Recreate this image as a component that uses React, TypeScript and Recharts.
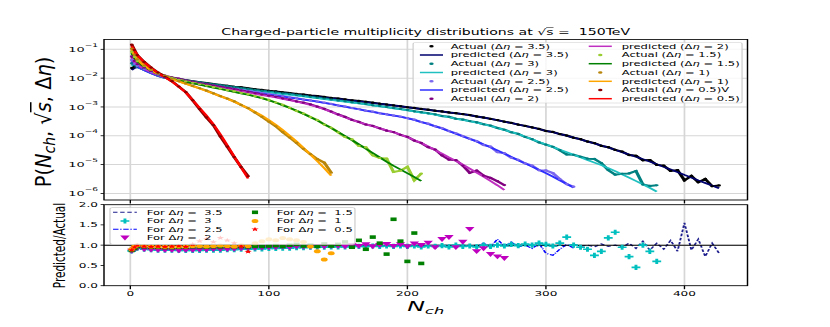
import React from 'react';
import { ComposedChart, Line, XAxis, YAxis, CartesianGrid, ReferenceLine } from 'recharts';

// ---- figure geometry (figure is drawn narrow, then stretched horizontally like the reference)
const SX = 1.7;
const W = 830 / SX;
const PLOT_L = 104 / SX;
const PLOT_R = 747.5 / SX;
const FONT = '"DejaVu Sans", sans-serif';

// ---- data
const X_TICKS = [0, 100, 200, 300, 400];
const X_DOMAIN: [number, number] = [-19, 445.5];
const Y_TICKS_TOP = [1e-6, 1e-5, 1e-4, 1e-3, 1e-2, 1e-1];
const Y_TICKS_BOTTOM = [0, 0.5, 1, 1.5, 2];

const nGrid = [1, 3, 5, 10, 15, 20, 25, 30, 35, 40, 45, 50, 55, 60, 65, 70, 75, 80, 85, 90, 95, 100, 105, 110, 115, 120, 125, 130, 135, 140, 145, 150, 155, 160, 165, 170, 175, 180, 185, 190, 195, 200, 205, 210, 215, 220, 225, 230, 235, 240, 245, 250, 255, 260, 265, 270, 275, 280, 285, 290, 295, 300, 305, 310, 315, 320, 325, 330, 335, 340, 345, 350, 355, 360, 365, 370, 375, 380, 385, 390, 395, 400, 405, 410, 415, 420, 425];

// log10 of predicted P(Nch)
const logPred05 = [-0.89, -1.05, -1.2, -1.45, -1.65, -1.82, -1.97, -2.12, -2.3, -2.5, -2.76, -3.03, -3.3, -3.6, -3.95, -4.33, -4.72, -5.1, -5.48];
const logPred10 = [-1.02, -1.2, -1.35, -1.57, -1.72, -1.85, -1.95, -2.04, -2.12, -2.2, -2.28, -2.36, -2.45, -2.54, -2.63, -2.72, -2.82, -2.93, -3.05, -3.17, -3.3, -3.45, -3.62, -3.8, -4.0, -4.2, -4.42, -4.65, -4.88, -5.12, -5.38];
const logPred15 = [-1.14, -1.3, -1.42, -1.6, -1.74, -1.86, -1.95, -2.02, -2.08, -2.13, -2.18, -2.23, -2.28, -2.33, -2.38, -2.43, -2.48, -2.53, -2.58, -2.64, -2.7, -2.77, -2.85, -2.94, -3.03, -3.13, -3.24, -3.35, -3.47, -3.6, -3.73, -3.87, -4.01, -4.15, -4.3, -4.45, -4.6, -4.75, -4.9, -5.04, -5.17, -5.3, -5.43, -5.57];
const logPred20 = [-1.31, -1.45, -1.55, -1.68, -1.8, -1.9, -1.97, -2.03, -2.08, -2.13, -2.18, -2.22, -2.26, -2.3, -2.34, -2.38, -2.42, -2.46, -2.5, -2.55, -2.59, -2.63, -2.67, -2.72, -2.77, -2.82, -2.87, -2.93, -3.0, -3.08, -3.17, -3.27, -3.36, -3.45, -3.53, -3.6, -3.67, -3.74, -3.81, -3.88, -3.96, -4.05, -4.15, -4.25, -4.37, -4.5, -4.62, -4.75, -4.87, -5.0, -5.14, -5.28, -5.42, -5.57, -5.72, -5.88];
const logPred25 = [-1.43, -1.55, -1.6, -1.72, -1.83, -1.92, -1.99, -2.05, -2.1, -2.14, -2.18, -2.22, -2.26, -2.3, -2.33, -2.37, -2.4, -2.44, -2.47, -2.5, -2.54, -2.57, -2.61, -2.64, -2.68, -2.71, -2.75, -2.78, -2.82, -2.86, -2.9, -2.95, -2.99, -3.04, -3.08, -3.13, -3.17, -3.22, -3.26, -3.3, -3.34, -3.39, -3.45, -3.52, -3.59, -3.67, -3.75, -3.84, -3.93, -4.02, -4.11, -4.2, -4.3, -4.4, -4.51, -4.62, -4.73, -4.85, -4.96, -5.07, -5.18, -5.3, -5.42, -5.55, -5.67, -5.8];
const logPred30 = [-1.55, -1.6, -1.62, -1.72, -1.83, -1.93, -2.0, -2.05, -2.09, -2.13, -2.17, -2.2, -2.24, -2.27, -2.3, -2.33, -2.36, -2.39, -2.42, -2.45, -2.48, -2.5, -2.53, -2.56, -2.58, -2.61, -2.64, -2.67, -2.7, -2.73, -2.76, -2.79, -2.82, -2.85, -2.88, -2.91, -2.95, -2.98, -3.01, -3.05, -3.08, -3.12, -3.16, -3.2, -3.23, -3.27, -3.32, -3.36, -3.41, -3.45, -3.5, -3.55, -3.6, -3.66, -3.73, -3.8, -3.87, -3.94, -4.03, -4.12, -4.21, -4.3, -4.39, -4.48, -4.57, -4.66, -4.75, -4.84, -4.93, -5.02, -5.12, -5.23, -5.34, -5.45, -5.57, -5.69, -5.81, -5.94];
const logPred35 = [-1.72, -1.65, -1.62, -1.72, -1.83, -1.93, -2.0, -2.05, -2.09, -2.13, -2.16, -2.19, -2.22, -2.25, -2.28, -2.31, -2.34, -2.36, -2.39, -2.42, -2.44, -2.47, -2.49, -2.52, -2.54, -2.57, -2.59, -2.62, -2.64, -2.67, -2.7, -2.72, -2.75, -2.78, -2.8, -2.83, -2.86, -2.89, -2.92, -2.95, -2.98, -3.01, -3.04, -3.07, -3.1, -3.13, -3.16, -3.19, -3.22, -3.25, -3.29, -3.33, -3.37, -3.41, -3.46, -3.51, -3.56, -3.61, -3.66, -3.71, -3.77, -3.83, -3.88, -3.94, -4.0, -4.06, -4.13, -4.2, -4.27, -4.34, -4.41, -4.49, -4.57, -4.65, -4.73, -4.81, -4.9, -4.99, -5.08, -5.17, -5.26, -5.36, -5.45, -5.55, -5.64, -5.73, -5.82];

// Predicted / Actual ratio
const ratio05 = [0.88, 0.95, 1.0, 0.97, 0.96, 0.97, 0.96, 0.97, 0.98, 0.96, 1.02, 1.1, 1.16, 1.08, 1.18, 1.12, 1.05, 0.97, 0.84];
const ratio10 = [0.9, 0.97, 1.0, 0.98, 0.97, 0.97, 0.96, 0.96, 0.97, 0.97, 0.98, 0.98, 0.97, 0.98, 0.99, 0.98, 0.97, 1.0, 0.98, 1.05, 1.1, 1.15, 1.12, 1.18, 1.15, 1.12, 1.08, 0.97, 0.85, 0.65, 0.8];
const ratio15 = [0.87, 0.92, 0.97, 0.96, 0.95, 0.95, 0.94, 0.94, 0.95, 0.95, 0.96, 0.96, 0.95, 0.96, 0.96, 0.97, 0.96, 0.97, 0.96, 0.97, 0.97, 0.98, 0.99, 0.97, 1.0, 1.02, 0.98, 1.0, 0.97, 1.03, 0.98, 1.02, 1.08, 0.95, 1.12, 0.9, 1.2, 1.05, 0.78, 1.64, 1.1, 0.6, 1.3, 0.55];
const ratio20 = [0.86, 0.9, 0.93, 0.9, 0.89, 0.88, 0.88, 0.88, 0.87, 0.88, 0.88, 0.89, 0.89, 0.9, 0.9, 0.9, 0.91, 0.92, 0.93, 0.93, 0.94, 0.95, 0.95, 0.96, 0.95, 0.97, 0.96, 0.96, 0.98, 0.97, 0.98, 0.98, 0.97, 1.0, 0.98, 1.02, 0.97, 1.0, 1.03, 0.98, 1.02, 0.97, 1.04, 1.0, 1.06, 0.95, 1.15, 1.2, 0.95, 1.08, 1.4, 0.85, 0.92, 0.78, 0.72, 0.68];
const ratio25 = [0.87, 0.91, 0.95, 0.93, 0.92, 0.91, 0.91, 0.9, 0.9, 0.9, 0.9, 0.9, 0.91, 0.91, 0.92, 0.92, 0.93, 0.93, 0.94, 0.94, 0.95, 0.95, 0.96, 0.96, 0.97, 0.97, 0.97, 0.98, 0.98, 0.98, 0.99, 0.99, 0.99, 1.0, 0.99, 1.0, 0.99, 1.0, 0.98, 1.0, 0.99, 1.0, 0.98, 1.01, 0.98, 1.0, 0.97, 0.99, 0.96, 0.98, 1.0, 0.97, 1.05, 0.95, 1.15, 0.97, 1.08, 0.96, 1.0, 0.92, 1.04, 0.8, 0.75, 0.9, 1.02, 0.93];
const ratio30 = [0.86, 0.9, 0.93, 0.9, 0.89, 0.88, 0.88, 0.88, 0.87, 0.87, 0.87, 0.87, 0.88, 0.88, 0.88, 0.89, 0.89, 0.9, 0.9, 0.91, 0.91, 0.92, 0.92, 0.93, 0.93, 0.94, 0.94, 0.95, 0.95, 0.95, 0.96, 0.96, 0.96, 0.97, 0.97, 0.97, 0.98, 0.97, 0.98, 0.97, 0.98, 0.97, 0.98, 0.96, 0.98, 0.97, 0.99, 0.96, 1.0, 0.97, 0.98, 0.96, 1.0, 0.97, 1.0, 0.98, 1.02, 0.99, 1.03, 1.0, 1.05, 1.02, 0.98, 1.05, 1.2, 1.0, 0.95, 0.9, 0.75, 0.85, 1.18, 1.32, 0.95, 0.72, 0.45, 1.0, 0.85, 0.6];
const ratio35 = [0.85, 0.9, 0.93, 0.9, 0.89, 0.89, 0.89, 0.88, 0.88, 0.88, 0.89, 0.89, 0.89, 0.9, 0.9, 0.9, 0.91, 0.91, 0.92, 0.92, 0.93, 0.93, 0.94, 0.94, 0.95, 0.95, 0.95, 0.96, 0.96, 0.96, 0.97, 0.97, 0.97, 0.98, 0.98, 0.98, 0.98, 0.99, 0.99, 0.99, 0.99, 1.0, 0.99, 1.0, 0.99, 1.0, 0.99, 1.0, 0.99, 1.0, 0.98, 1.0, 0.99, 1.01, 0.99, 1.0, 0.98, 1.01, 0.99, 1.0, 0.98, 1.01, 0.97, 1.0, 0.98, 1.02, 0.97, 1.0, 0.96, 1.03, 0.97, 1.0, 0.95, 1.05, 0.92, 1.1, 0.88, 1.05, 0.9, 1.12, 0.85, 1.55, 0.88, 1.15, 0.72, 1.05, 0.8];

type Row = { x: number; pred: number; act: number; ratio: number };
const build = (logs: number[], ratios: number[]): Row[] =>
  logs.map((l, i) => ({ x: nGrid[i], pred: Math.pow(10, l), act: Math.pow(10, l) / ratios[i], ratio: ratios[i] }));

type Kind = 'dash' | 'plus' | 'dashdot' | 'tri' | 'square' | 'circle' | 'star';
type Series = { eta: string; rows: Row[]; act: string; pred: string; rc: string; kind: Kind };

const SERIES: Series[] = [
  { eta: '3.5', rows: build(logPred35, ratio35), act: '#000000', pred: '#00006e', rc: '#1c1c8c', kind: 'dash' },
  { eta: '3', rows: build(logPred30, ratio30), act: '#008080', pred: '#20c0c0', rc: '#00bfbf', kind: 'plus' },
  { eta: '2.5', rows: build(logPred25, ratio25), act: '#7b68ee', pred: '#2f2fff', rc: '#0000ff', kind: 'dashdot' },
  { eta: '2', rows: build(logPred20, ratio20), act: '#800080', pred: '#c030c0', rc: '#bf00bf', kind: 'tri' },
  { eta: '1.5', rows: build(logPred15, ratio15), act: '#9acd32', pred: '#008000', rc: '#008000', kind: 'square' },
  { eta: '1', rows: build(logPred10, ratio10), act: '#b8860b', pred: '#ffa500', rc: '#ffa500', kind: 'circle' },
  { eta: '0.5', rows: build(logPred05, ratio05), act: '#8b0000', pred: '#ff0000', rc: '#ff0000', kind: 'star' },
];

// ---- marker shapes
const starPath = (cx: number, cy: number, R: number, r: number) => {
  let d = '';
  for (let i = 0; i < 10; i++) {
    const a = -Math.PI / 2 + (i * Math.PI) / 5;
    const rad = i % 2 === 0 ? R : r;
    d += (i === 0 ? 'M' : 'L') + (cx + rad * Math.cos(a)).toFixed(2) + ',' + (cy + rad * Math.sin(a)).toFixed(2);
  }
  return d + 'Z';
};
const plusPath = (cx: number, cy: number, h: number, w: number) => {
  const a = w / 2;
  return `M${cx - a},${cy - h}H${cx + a}V${cy - a}H${cx + h}V${cy + a}H${cx + a}V${cy + h}H${cx - a}V${cy + a}H${cx - h}V${cy - a}H${cx - a}Z`;
};
const Marker = ({ kind, cx, cy, color }: { kind: Kind; cx: number; cy: number; color: string }) => {
  if (cx == null || cy == null || isNaN(cx) || isNaN(cy)) return <g />;
  if (kind === 'plus') return <path d={plusPath(cx, cy, 2.6, 1.7)} fill={color} />;
  if (kind === 'tri') return <path d={`M${cx - 2.8},${cy - 2.1}L${cx + 2.8},${cy - 2.1}L${cx},${cy + 2.8}Z`} fill={color} />;
  if (kind === 'square') return <rect x={cx - 1.8} y={cy - 1.8} width={3.6} height={3.6} fill={color} />;
  if (kind === 'circle') return <circle cx={cx} cy={cy} r={2} fill={color} />;
  if (kind === 'star') return <path d={starPath(cx, cy, 2.3, 1.0)} fill={color} />;
  return <g />;
};

const LogTick = (props: any) => {
  const { x, y, payload } = props;
  const e = Math.round(Math.log10(payload.value));
  return (
    <text x={x} y={y} textAnchor="end" fontSize={7.6} fontFamily={FONT} fill="#000">
      <tspan dy={2.6}>10</tspan>
      <tspan fontSize={5.3} dy={-5}>{'\u2212' + Math.abs(e)}</tspan>
    </text>
  );
};

const TopChart = () => (
  <ComposedChart width={W} height={205} margin={{ top: 39.5, right: W - PLOT_R, bottom: 0, left: 0 }}>
    <CartesianGrid stroke="#d6d6d6" strokeWidth={1} />
    <XAxis type="number" dataKey="x" domain={X_DOMAIN} ticks={X_TICKS} allowDataOverflow axisLine={false}
      tickSize={3.5} tickLine={{ stroke: '#000', strokeWidth: 0.8 }} tickFormatter={() => ''} height={5} />
    <YAxis type="number" scale="log" domain={[5.9e-7, 0.219]} ticks={Y_TICKS_TOP} allowDataOverflow width={PLOT_L}
      axisLine={false} tickSize={2} tickMargin={1.5} tickLine={{ stroke: '#000', strokeWidth: 0.8 }} tick={(p: any) => <LogTick {...p} />} />
    {SERIES.flatMap((s) => [
      <Line key={'a' + s.eta} data={s.rows} dataKey="act" type="linear" stroke={s.act} strokeWidth={2.0}
        dot={(p: any) => <circle key={p.key} cx={p.cx} cy={p.cy} r={1.1} fill={s.act} />}
        activeDot={false} isAnimationActive={false} />,
      <Line key={'p' + s.eta} data={s.rows} dataKey="pred" type="linear" stroke={s.pred} strokeWidth={1.6}
        dot={false} activeDot={false} isAnimationActive={false} />,
    ])}
  </ComposedChart>
);

const BottomChart = () => (
  <ComposedChart width={W} height={127} margin={{ top: 4.7, right: W - PLOT_R, bottom: 21.3, left: 0 }}>
    <CartesianGrid stroke="#d6d6d6" strokeWidth={1} />
    <XAxis type="number" dataKey="x" domain={X_DOMAIN} ticks={X_TICKS} allowDataOverflow axisLine={false}
      tickSize={3.5} tickMargin={2} height={20} tickLine={{ stroke: '#000', strokeWidth: 0.8 }}
      tick={{ fontSize: 7.1, fill: '#000', fontFamily: FONT }} />
    <YAxis type="number" domain={[0, 2]} ticks={Y_TICKS_BOTTOM} allowDataOverflow width={PLOT_L} axisLine={false}
      tickSize={2} tickMargin={1.5} tickLine={{ stroke: '#000', strokeWidth: 0.8 }}
      tick={{ fontSize: 7.1, fill: '#000', fontFamily: FONT }} tickFormatter={(v: number) => v.toFixed(1)} />
    {SERIES.map((s) =>
      s.kind === 'dash' || s.kind === 'dashdot' ? (
        <Line key={'r' + s.eta} data={s.rows} dataKey="ratio" type="linear" stroke={s.rc} strokeWidth={1.1}
          strokeDasharray={s.kind === 'dash' ? '2.6 1.6' : '3.2 1 0.8 1'} dot={false} activeDot={false} isAnimationActive={false} />
      ) : (
        <Line key={'r' + s.eta} data={s.rows} dataKey="ratio" type="linear" stroke="none" activeDot={false} isAnimationActive={false}
          dot={(p: any) => <Marker key={p.key} kind={s.kind} cx={p.cx} cy={p.cy} color={s.rc} />} />
      )
    )}
    <ReferenceLine y={1} stroke="#000" strokeWidth={1} />
  </ComposedChart>
);

const EtaText = ({ x, y, pre, eta, post, size }: { x: number; y: number; pre: string; eta: string; post: string; size: number }) => (
  <text x={x} y={y} fontSize={size} fontFamily={FONT} fill="#000" style={{ whiteSpace: 'pre' }}>
    {pre}{'\u0394'}<tspan fontStyle="italic">{'\u03b7'}</tspan>{eta}{post}
  </text>
);

const TopLegend = () => {
  const entries = SERIES.flatMap((s) => [
    { line: false, color: s.act, pre: 'Actual (', eta: s.eta, post: s.eta === '0.5' ? ')V' : ')' },
    { line: true, color: s.pred, pre: 'predicted (', eta: s.eta, post: ')' },
  ]);
  const rowsY = [46.3, 55, 63.7, 72.5, 81.3, 90, 98.7];
  const colH = [247, 346.3];
  const colT = [265.1, 365.7];
  return (
    <g>
      <rect x={243} y={42.5} width={193.5} height={60.5} rx={1.5} fill="#fff" fillOpacity={0.8} stroke="#cccccc" strokeWidth={0.7} />
      {entries.map((e, i) => {
        const c = i < 7 ? 0 : 1;
        const y = rowsY[i % 7];
        return (
          <g key={i}>
            {e.line ? (
              <line x1={colH[c]} x2={colH[c] + 13.6} y1={y} y2={y} stroke={e.color} strokeWidth={1.5} />
            ) : (
              <circle cx={colH[c] + 6.8} cy={y} r={1.3} fill={e.color} />
            )}
            <EtaText x={colT[c]} y={y + 2.4} pre={e.pre} eta={' = ' + e.eta} post={e.post} size={6.8} />
          </g>
        );
      })}
    </g>
  );
};

const BottomLegend = () => {
  const rowsY = [212.3, 221, 229.3, 237.7];
  const colH = [66.5, 143];
  const colT = [86.3, 162.8];
  return (
    <g>
      <rect x={64.7} y={207.7} width={144.1} height={36.6} rx={1.5} fill="#fff" fillOpacity={0.8} stroke="#cccccc" strokeWidth={0.7} />
      {SERIES.map((s, i) => {
        const c = i < 4 ? 0 : 1;
        const y = rowsY[i < 4 ? i : i - 4];
        const cx = colH[c] + 7;
        return (
          <g key={i}>
            {s.kind === 'dash' || s.kind === 'dashdot' ? (
              <line x1={colH[c]} x2={colH[c] + 14} y1={y} y2={y} stroke={s.rc} strokeWidth={1.1}
                strokeDasharray={s.kind === 'dash' ? '2.6 1.6' : '3.2 1 0.8 1'} />
            ) : (
              <Marker kind={s.kind} cx={cx} cy={y} color={s.rc} />
            )}
            <EtaText x={colT[c]} y={y + 2.4} pre="For " eta={' =  ' + s.eta} post="" size={6.8} />
          </g>
        );
      })}
    </g>
  );
};

const Overlay = () => (
  <svg width={W} height={327} style={{ position: 'absolute', left: 0, top: 0, pointerEvents: 'none' }}>
    <TopLegend />
    <BottomLegend />
    <rect x={PLOT_L} y={39.5} width={PLOT_R - PLOT_L} height={160.5} fill="none" stroke="#000" strokeWidth={0.8} />
    <rect x={PLOT_L} y={204.7} width={PLOT_R - PLOT_L} height={81} fill="none" stroke="#000" strokeWidth={0.8} />
    <text x={(PLOT_L + PLOT_R) / 2} y={35.3} textAnchor="middle" fontSize={8.3} fontFamily={FONT} fill="#000" style={{ whiteSpace: 'pre' }}>
      {'Charged-particle multiplicity distributions at \u221a'}
      <tspan style={{ textDecoration: 'overline' }}>s</tspan>
      {' =  150TeV'}
    </text>
    <text x={(PLOT_L + PLOT_R) / 2} y={311} textAnchor="middle" fontSize={14} fontFamily={FONT} fill="#000">
      <tspan fontStyle="italic">N</tspan>
      <tspan fontStyle="italic" fontSize={9.5} dy={3.2}>ch</tspan>
    </text>
    <text transform={`translate(${44 / SX},122) rotate(-90) scale(1.55,1)`} textAnchor="middle" dominantBaseline="central"
      fontSize={12.5} fontFamily={FONT} fill="#000">
      P(<tspan fontStyle="italic">N</tspan>
      <tspan fontStyle="italic" fontSize={9} dy={3}>ch</tspan>
      <tspan dy={-3}>, {'\u221a'}</tspan>
      <tspan fontStyle="italic" style={{ textDecoration: 'overline' }}>s</tspan>, {'\u0394'}
      <tspan fontStyle="italic">{'\u03b7'}</tspan>)
    </text>
    <text transform={`translate(${59 / SX},245.5) rotate(-90) scale(1.1,1)`} textAnchor="middle" dominantBaseline="central"
      fontSize={9.5} fontFamily={FONT} fill="#000">
      Predicted/Actual
    </text>
  </svg>
);

export default function App() {
  return (
    <div style={{ position: 'absolute', left: 0, top: 0, width: 830, height: 327, overflow: 'hidden', background: '#fff' }}>
      <div style={{ position: 'absolute', left: 0, top: 0, width: W, height: 327, transform: `scaleX(${SX})`, transformOrigin: '0 0' }}>
        <div style={{ position: 'absolute', left: 0, top: 0 }}>
          <TopChart />
        </div>
        <div style={{ position: 'absolute', left: 0, top: 200 }}>
          <BottomChart />
        </div>
        <Overlay />
      </div>
    </div>
  );
}
